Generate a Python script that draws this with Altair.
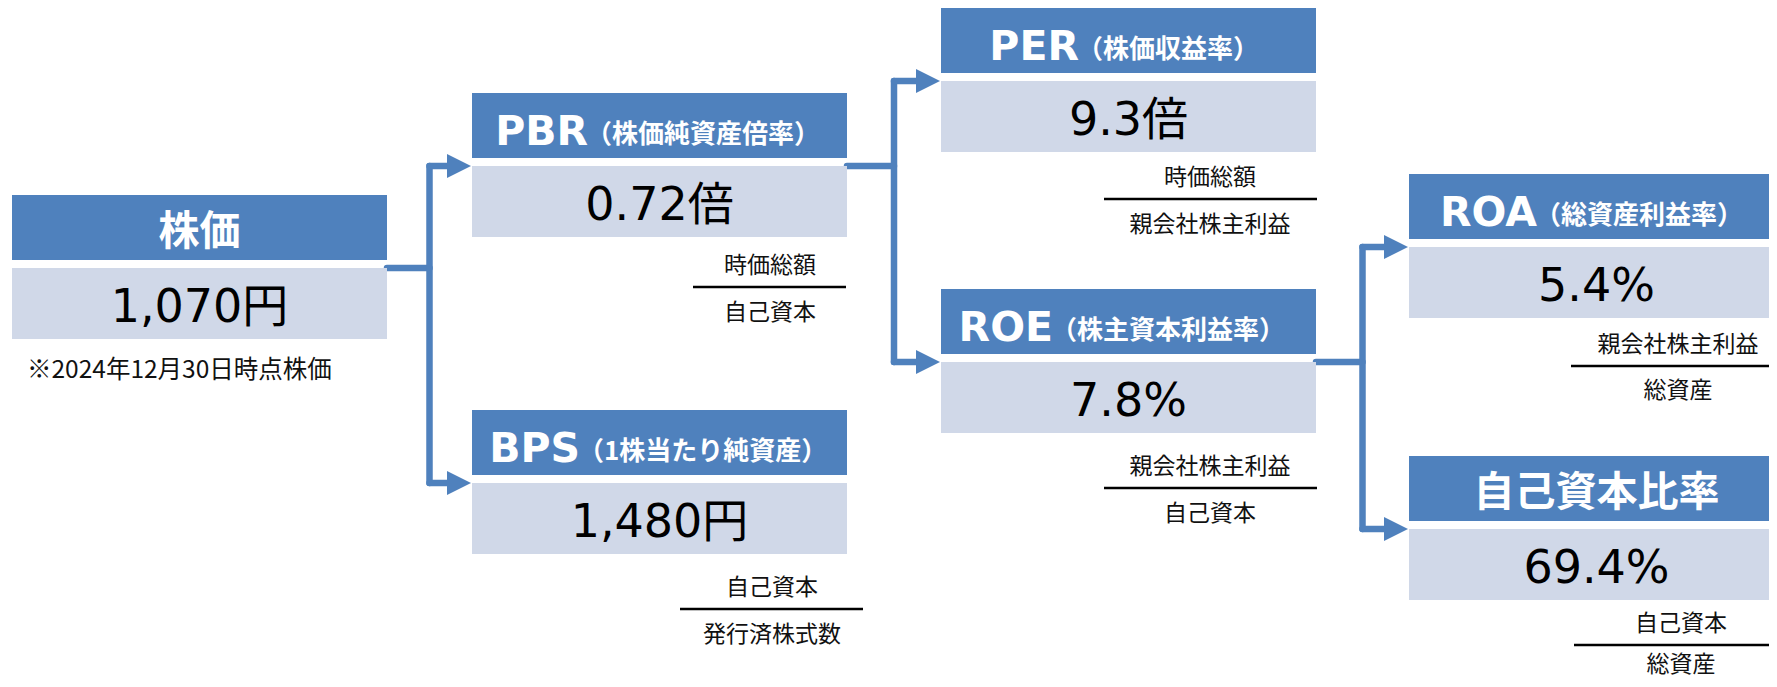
import altair as alt
import pandas as pd

# ---------------- content ----------------
NODES = ["株価", "PBR", "BPS", "PER", "ROE", "ROA", "自己資本比率"]
ACRONYMS = ["", "PBR", "BPS", "PER", "ROE", "ROA", ""]
SUBTITLES = ["", "（株価純資産倍率）", "（1株当たり純資産）", "（株価収益率）",
             "（株主資本利益率）", "（総資産利益率）", ""]
VALUES = ["1,070円", "0.72倍", "1,480円", "9.3倍", "7.8%", "5.4%", "69.4%"]
NUMERATORS = ["", "時価総額", "自己資本", "時価総額", "親会社株主利益", "親会社株主利益", "自己資本"]
DENOMINATORS = ["", "自己資本", "発行済株式数", "親会社株主利益", "自己資本", "総資産", "総資産"]
NOTE = "※2024年12月30日時点株価"
EDGES = [("株価", "PBR"), ("株価", "BPS"), ("PBR", "PER"), ("PBR", "ROE"),
         ("ROE", "ROA"), ("ROE", "自己資本比率")]

# ---------------- layout (page pixels) ----------------
BOX_LEFT = [12, 472, 472, 941, 941, 1409, 1409]
HEAD_TOP = [199, 97, 414, 12, 293, 178, 460]
BOX_W = 375
HEAD_H = 65
VAL_OFF = 73
VAL_H = 71
SPLIT_X = [None, 588, 580, 1079, 1053, 1537, None]
FRAC_X1 = [None, 693, 680, 1104, 1104, 1571, 1574]
FRAC_X2 = [None, 846, 863, 1317, 1317, 1795, 1795]
FRAC_Y = [None, 291, 613, 203, 492, 370, 649]
FRAC_TX = [None, 770, 772, 1210, 1210, 1678, 1681]
DEN_OFF = [None, 24, 24, 24, 24, 23, 18]
NOTE_X, NOTE_Y = 27, 373

BLUE = "#4F81BD"
LIGHT = "#D0D8E8"
CJK = "Noto Sans CJK JP"
LATIN = "DejaVu Sans"

W, H = 1761, 671
Y_START = 12
xs = alt.Scale(domain=[8, 8 + W], nice=False, zero=False)
ys = alt.Scale(domain=[Y_START, Y_START + H], nice=False, zero=False, reverse=True)

left = {n: BOX_LEFT[i] for i, n in enumerate(NODES)}
right = {n: BOX_LEFT[i] + BOX_W for i, n in enumerate(NODES)}
vtop = {n: HEAD_TOP[i] + VAL_OFF for i, n in enumerate(NODES)}

# boxes
rect_rows = []
for i, n in enumerate(NODES):
    rect_rows.append(dict(x=BOX_LEFT[i], x2=BOX_LEFT[i] + BOX_W, y=HEAD_TOP[i],
                          y2=HEAD_TOP[i] + HEAD_H, kind="header"))
    rect_rows.append(dict(x=BOX_LEFT[i], x2=BOX_LEFT[i] + BOX_W, y=HEAD_TOP[i] + VAL_OFF,
                          y2=HEAD_TOP[i] + VAL_OFF + VAL_H, kind="value"))
rects = pd.DataFrame(rect_rows)

# connectors
line_rows, head_rows = [], []
sources = []
for s, t in EDGES:
    if s not in sources:
        sources.append(s)
for s in sources:
    targets = [t for a, t in EDGES if a == s]
    trunk = (right[s] + min(left[t] for t in targets)) / 2
    ey = vtop[s]
    line_rows.append(dict(x=right[s], x2=trunk, y=ey, y2=ey))
    yl = [vtop[t] for t in targets] + [ey]
    line_rows.append(dict(x=trunk, x2=trunk, y=min(yl), y2=max(yl)))
    for t in targets:
        line_rows.append(dict(x=trunk, x2=left[t] - 20, y=vtop[t], y2=vtop[t]))
        head_rows.append(dict(x=left[t] - 1 - 12, y=vtop[t]))
lines = pd.DataFrame(line_rows)
heads = pd.DataFrame(head_rows)

# fraction bars
frac_rows, num_rows = [], []
for i, n in enumerate(NODES):
    if NUMERATORS[i]:
        frac_rows.append(dict(x=FRAC_X1[i], x2=FRAC_X2[i], y=FRAC_Y[i], y2=FRAC_Y[i]))
        num_rows.append(dict(x=FRAC_TX[i], y=FRAC_Y[i] - 23 + 9, label=NUMERATORS[i]))
        num_rows.append(dict(x=FRAC_TX[i], y=FRAC_Y[i] + DEN_OFF[i] + 9, label=DENOMINATORS[i]))
fracs = pd.DataFrame(frac_rows)
nums = pd.DataFrame(num_rows)
note = pd.DataFrame([dict(x=NOTE_X, y=NOTE_Y + 9, label=NOTE)])

# header texts
acr_rows, sub_rows, cjk_title_rows, val_rows = [], [], [], []
for i, n in enumerate(NODES):
    hb = HEAD_TOP[i] + HEAD_H
    cx = BOX_LEFT[i] + BOX_W / 2
    if ACRONYMS[i]:
        acr_rows.append(dict(x=SPLIT_X[i], y=hb - 13.5, label=ACRONYMS[i]))
        sub_rows.append(dict(x=SPLIT_X[i] - 2, y=hb - 15, label=SUBTITLES[i]))
    else:
        cjk_title_rows.append(dict(x=cx, y=HEAD_TOP[i] + HEAD_H / 2 + 2 + 0.38 * 41, label=n))
    val_rows.append(dict(x=cx, y=HEAD_TOP[i] + VAL_OFF + VAL_H - 17, label=VALUES[i]))

X = lambda: alt.X("x:Q", scale=xs, axis=None)
Y = lambda: alt.Y("y:Q", scale=ys, axis=None)

rect_layer = alt.Chart(rects).mark_rect().encode(
    x=X(), x2="x2:Q", y=Y(), y2="y2:Q",
    color=alt.Color("kind:N", scale=alt.Scale(domain=["header", "value"], range=[BLUE, LIGHT]),
                    legend=None))
line_layer = alt.Chart(lines).mark_rule(color=BLUE, strokeWidth=6.5, strokeCap="round").encode(
    x=X(), x2="x2:Q", y=Y(), y2="y2:Q")
head_layer = alt.Chart(heads).mark_point(
    shape="M -1 -1 L 1 0 L -1 1 Z", size=576, filled=True, color=BLUE, opacity=1, strokeWidth=0
).encode(x=X(), y=Y())
frac_layer = alt.Chart(fracs).mark_rule(color="black", strokeWidth=2.5).encode(
    x=X(), x2="x2:Q", y=Y(), y2="y2:Q")

txt_nums = alt.Chart(nums).mark_text(
    font=CJK, fontSize=23, color="#111111", align="center", baseline="alphabetic"
).encode(x=X(), y=Y(), text="label:N")
txt_note = alt.Chart(note).mark_text(
    font=CJK, fontSize=24.5, color="#111111", align="left", baseline="alphabetic"
).encode(x=X(), y=Y(), text="label:N")
txt_acr = alt.Chart(pd.DataFrame(acr_rows)).mark_text(
    font=LATIN, fontSize=41, fontWeight="bold", color="white", align="right", baseline="alphabetic"
).encode(x=X(), y=Y(), text="label:N")
txt_sub = alt.Chart(pd.DataFrame(sub_rows)).mark_text(
    font=CJK, fontSize=26, fontWeight="bold", color="white", align="left", baseline="alphabetic"
).encode(x=X(), y=Y(), text="label:N")
txt_cjk_title = alt.Chart(pd.DataFrame(cjk_title_rows)).mark_text(
    font=CJK, fontSize=41, fontWeight="bold", color="white", align="center", baseline="alphabetic"
).encode(x=X(), y=Y(), text="label:N")
txt_val = alt.Chart(pd.DataFrame(val_rows)).mark_text(
    font=f"{LATIN}, {CJK}", fontSize=46, color="black", align="center", baseline="alphabetic"
).encode(x=X(), y=Y(), text="label:N")

chart = alt.layer(
    line_layer, head_layer, rect_layer, frac_layer,
    txt_acr, txt_sub, txt_cjk_title, txt_val, txt_nums, txt_note
).resolve_scale(color="independent").properties(
    width=W, height=H, padding=0, autosize=alt.AutoSizeParams(type="none")
).configure_view(stroke=None)

chart.save("out.html", embed_options={"renderer": "svg", "actions": False})
